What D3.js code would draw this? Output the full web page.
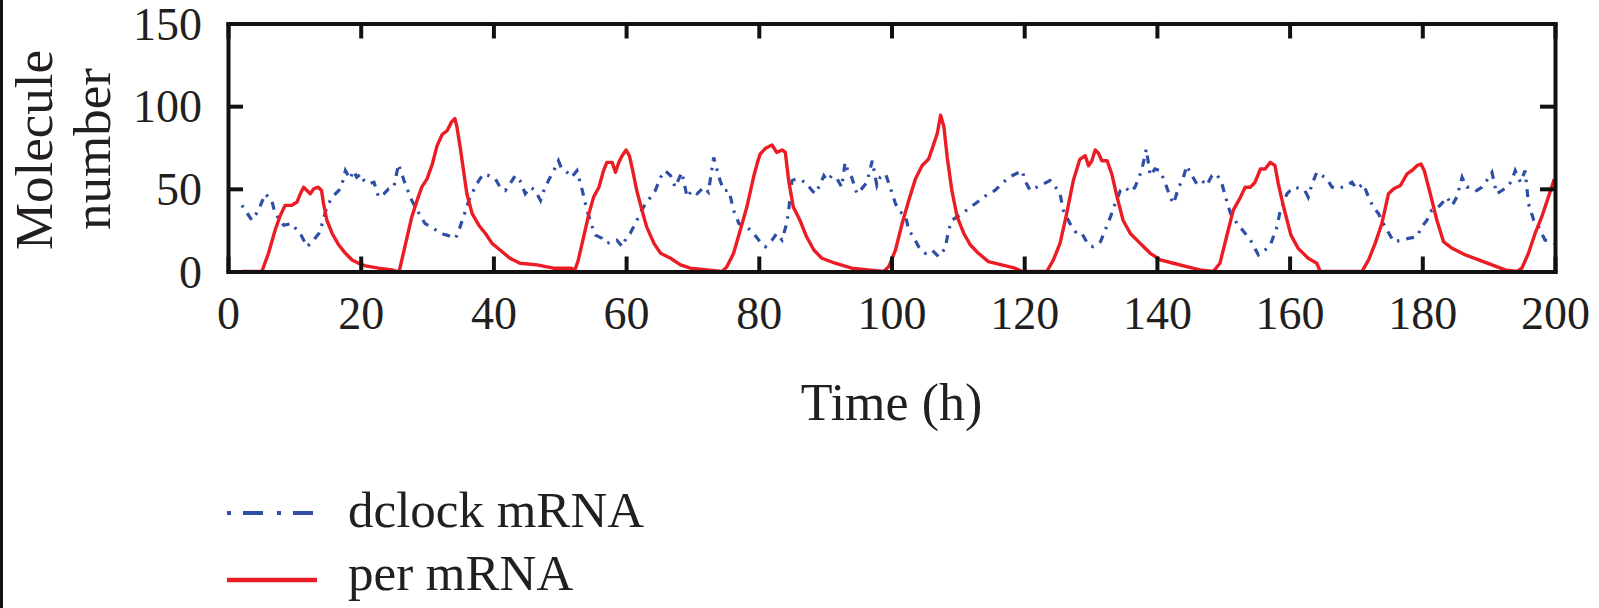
<!DOCTYPE html>
<html>
<head>
<meta charset="utf-8">
<script src="https://cdn.jsdelivr.net/npm/d3@7"></script>
<style>
html,body{margin:0;padding:0;background:#fff;}
svg{display:block;}
text{font-family:"Liberation Serif","Times New Roman",serif;fill:#231f20;}
</style>
</head>
<body>
<svg id="chart" width="1599" height="608"></svg>
<script>
// ---- data ----
const xTicks = [0, 20, 40, 60, 80, 100, 120, 140, 160, 180, 200];
const yTicks = [0, 50, 100, 150];
const seriesNames = ["dclock mRNA", "per mRNA"];

const perTime = [2.1,5.1,6.1,7.1,7.9,8.6,9.6,10.4,10.9,11.4,11.9,12.4,12.9,13.6,14.1,14.4,14.9,15.7,16.7,17.7,18.7,19.7,20.7,22.7,24.7,25.5,25.8,26.2,27,27.7,28.5,29.2,30,30.8,31.5,32.3,33,33.7,34.2,34.5,35,35.5,36,36.8,37.8,38.8,39.8,41,42.5,44,46.6,49,51.6,52.3,52.8,53.6,54.4,55.1,55.9,56.6,57.1,57.9,58.4,58.9,59.4,60,60.5,61,61.6,62.4,63.1,64.2,65.2,66.7,68.2,69.7,72.2,74.5,75.2,76.2,77.2,78.2,79.2,79.8,80.2,81,82,82.7,83.5,84,84.5,85.2,86.2,87.2,88.3,89.5,91.5,94,96.5,98.8,99.6,100.6,101.6,102.6,103.6,104.6,105.6,106.4,106.9,107.4,107.9,108.4,109.1,109.9,110.9,111.9,113.1,114.6,116.6,118.6,119.7,123.4,124.4,125.4,126.4,127.4,128.4,129.2,129.7,130.2,130.7,131.2,131.7,132.5,133.2,134,134.9,136,137,138,139,140.5,142.5,144.5,146.5,148.5,149.5,150.5,151.5,152.6,153.3,154.1,154.8,155.6,156.3,157.1,157.8,158.3,159.1,160.2,161.3,162.8,164.1,164.6,170.9,171.9,172.9,173.9,174.9,175.7,176.7,177.7,178.4,179.2,179.8,180.3,181.2,182.2,183.2,184.5,186.5,188.5,190.5,192.5,194.3,195,196,197,198,199,199.9];
const perValues = [0,0,11,25,34,40,40,42,47,51,49,47,50,51,49,41,31,23,16,11,7,5,3.4,2,1,0,0,7,21,33,43,51,56,65,76,83,85,90.5,92.5,87.5,75,61,47,35,28,23,17,13,8,5,4,2,2,1,7,21,35,45,51,61,66,66,60,66,70,73.5,70,61,49,37,27,17,11,8,4,2,1,0,3,11,25,39,57,66,71,74.5,76.5,72,73.5,72,55,39,31,21,13,8,5,2,1,0,3,13,29,43,56,64,68,77.5,83.5,94.5,87.5,69,49,33,23,16,11,6,4,2,0,0,7,17,35,55,68,70,64,67,73.5,71.5,67,67,59,45,31,23,19,15,11,7,5,3,1,0,5,21,37,45,51,51,54,62,62,66,64,53,39,22,14,8,5,0,0,7,17,29,47,50,52,59,61,64,65,61,47,31,18,14,10,7,4,1,0,2,11,23,33,45,56];

const dclockTime = [2.1,3.6,4.6,5.6,6.6,7.1,8.4,9.6,10.4,10.9,11.9,12.9,13.7,14.2,14.9,15.7,16.7,17.2,17.7,18.4,18.9,19.4,20,20.5,21.2,22,22.7,23.5,24.2,25,25.7,26.2,26.7,27.7,28.5,29.7,31,32,33,34.3,34.8,35.5,36.3,37,37.8,38.5,39.3,40.3,41,41.8,42.5,43.3,44,44.8,45.6,46.3,47.1,47.6,48.3,49.1,49.8,50.3,51.1,51.8,52.6,53.4,54.1,54.9,55.4,56.4,57.1,57.9,58.6,59.4,60.1,60.6,61.4,62.1,62.9,63.7,64.4,65.2,65.9,66.7,67.4,68.4,69.2,69.9,70.7,71.7,72.4,73.2,74,74.7,75.5,76.2,77,78.2,79.2,80.2,81,82,82.7,83.5,84.2,84.5,85,85.7,86.5,87.3,87.8,88.5,89.3,89.8,90.3,91,91.8,92.5,93,93.5,94,94.8,95.5,96.3,97.1,97.8,98.3,99.1,99.8,100.6,101.3,102.1,102.6,103.3,104.1,105.1,106.1,107.1,108.1,108.6,109.1,109.9,110.6,111.6,112.6,113.6,114.6,115.6,116.6,117.7,118.7,119.7,120.1,120.9,121.9,122.9,123.9,124.4,125.4,125.9,126.9,127.9,128.7,129.7,130.4,131.5,132.2,133,133.7,134.5,135.2,136,136.7,137.7,138.4,139,139.7,140.5,141.3,142,142.5,143.3,144,144.5,145.3,146,146.8,147.5,148.3,149,149.8,150.5,151.1,152.1,153.1,154.1,155.3,156.3,157.1,158.1,158.6,159.6,160.1,160.8,161.6,162.3,162.8,163.4,164.1,164.9,165.6,166.4,167.1,167.9,168.6,169.4,170.1,171.1,171.9,172.6,173.4,174.4,175.7,176.9,177.9,179.2,179.9,180.7,181.4,182.2,182.9,183.7,184.5,185.2,186,186.7,187.5,188.2,189,189.7,190.5,191.2,192,192.8,193.5,194,194.8,195.5,196,196.8,197.5,198.5,199.9];
const dclockValues = [40,31,37,47,43,35,28,29,25,23,15,19,23,29,39,45,49,53,61,56,61,57,59,55,53,54,45,47,50,51,65,59,53,43,37,29,26,23,22,20,25,33,43,49,55,59,58,56,51,49,53,58,55,47,51,49,43,49,55,61,67,62,60,57,61,49,37,27,22,20,17,18,19,15,21,23,29,35,41,45,49,57,61,58,51,60,45,49,47,51,48,69,57,49,49,37,29,27,23,18,15,19,23,19,29,37,55,56,55,53,50,47,53,58,55,58,56,51,66,60,57,47,50,54,67,52,57,59,51,41,36,34,25,21,15,11,13,9,14,25,31,33,35,38,41,44,47,49,53,57,59,61,55,49,51,53,55,53,47,37,29,23,23,16,15,18,25,33,41,49,51,48,51,61,74,58,62,61,53,45,41,51,57,64,58,53,55,52,58,59,53,43,35,29,24,19,10,13,16,27,37,47,49,51,50,49,45,53,60,58,56,51,50,51,52,54,50,53,45,39,35,27,18,19,20,21,27,31,37,38,41,45,40,45,57,51,51,49,51,55,60,47,49,51,55,61,54,61,41,31,27,19,17];

// ---- layout ----
const svg = d3.select("#chart");
const plot = {left: 228, right: 1555, top: 23.5, bottom: 271.5};
const x = d3.scaleLinear().domain([0, 200]).range([plot.left, plot.right]);
const y = d3.scaleLinear().domain([0, 150]).range([plot.bottom, plot.top]);
const red = "#ec1c24", blue = "#2f4fa6", ink = "#111";

// left border of the figure panel
svg.append("line").attr("x1", 1.5).attr("x2", 1.5).attr("y1", 0).attr("y2", 608)
  .attr("stroke", ink).attr("stroke-width", 3);

// clip
svg.append("clipPath").attr("id", "clip").append("rect")
  .attr("x", plot.left).attr("y", plot.top)
  .attr("width", plot.right - plot.left).attr("height", plot.bottom - plot.top);

const perData = perTime.map((t, i) => [t, perValues[i]]);
const dclockData = dclockTime.map((t, i) => [t, dclockValues[i]]);
const line = d3.line().x(d => x(d[0])).y(d => y(d[1]));

const g = svg.append("g").attr("clip-path", "url(#clip)");
g.append("path").datum(dclockData).attr("d", line)
  .attr("fill", "none").attr("stroke", blue).attr("stroke-width", 3.2)
  .attr("stroke-dasharray", "2.5,7,8,7");
g.append("path").datum(perData).attr("d", line)
  .attr("fill", "none").attr("stroke", red).attr("stroke-width", 3.4)
  .attr("stroke-linejoin", "round");

// axes (frame with inward ticks)
const tickLen = 15;
const axB = svg.append("g").attr("transform", `translate(0,${plot.bottom})`)
  .call(d3.axisBottom(x).tickValues(xTicks).tickSizeInner(-tickLen).tickSizeOuter(0).tickPadding(22).tickFormat(d3.format("d")));
const axT = svg.append("g").attr("transform", `translate(0,${plot.top})`)
  .call(d3.axisTop(x).tickValues(xTicks).tickSizeInner(-tickLen).tickSizeOuter(0).tickFormat(""));
const axL = svg.append("g").attr("transform", `translate(${plot.left},0)`)
  .call(d3.axisLeft(y).tickValues(yTicks).tickSizeInner(-tickLen).tickSizeOuter(0).tickPadding(26).tickFormat(d3.format("d")));
const axR = svg.append("g").attr("transform", `translate(${plot.right},0)`)
  .call(d3.axisRight(y).tickValues(yTicks).tickSizeInner(-tickLen).tickSizeOuter(0).tickFormat(""));
[axB, axT, axL, axR].forEach(a => {
  a.select(".domain").attr("stroke", ink).attr("stroke-width", 4).attr("stroke-linecap", "square");
  a.selectAll(".tick line").attr("stroke", ink).attr("stroke-width", 4);
  a.selectAll("text").attr("font-family", "Liberation Serif, serif").attr("font-size", 46).attr("fill", "#231f20");
});
axB.selectAll(".tick text").attr("dy", null).attr("y", 57);
axL.selectAll(".tick text").attr("dy", "0.34em");

// axis titles
svg.append("text").attr("x", (plot.left + plot.right) / 2).attr("y", 420)
  .attr("text-anchor", "middle").attr("font-size", 52).text("Time (h)");
const yl = svg.append("g");
yl.append("text").attr("transform", "translate(52,150) rotate(-90)")
  .attr("text-anchor", "middle").attr("font-size", 53).text("Molecule");
yl.append("text").attr("transform", "translate(110,149) rotate(-90)")
  .attr("text-anchor", "middle").attr("font-size", 53).text("number");

// legend
const legend = svg.append("g");
const legItems = [
  {name: seriesNames[0], color: blue, dash: "4,12,20,14", w: 4, ly: 513, ty: 527},
  {name: seriesNames[1], color: red, dash: null, w: 4.5, ly: 580, ty: 590}
];
legItems.forEach(it => {
  legend.append("line").attr("x1", 227).attr("x2", 317).attr("y1", it.ly).attr("y2", it.ly)
    .attr("stroke", it.color).attr("stroke-width", it.w).attr("stroke-dasharray", it.dash);
  legend.append("text").attr("x", 348).attr("y", it.ty).attr("font-size", 51).text(it.name);
});
</script>
</body>
</html>
